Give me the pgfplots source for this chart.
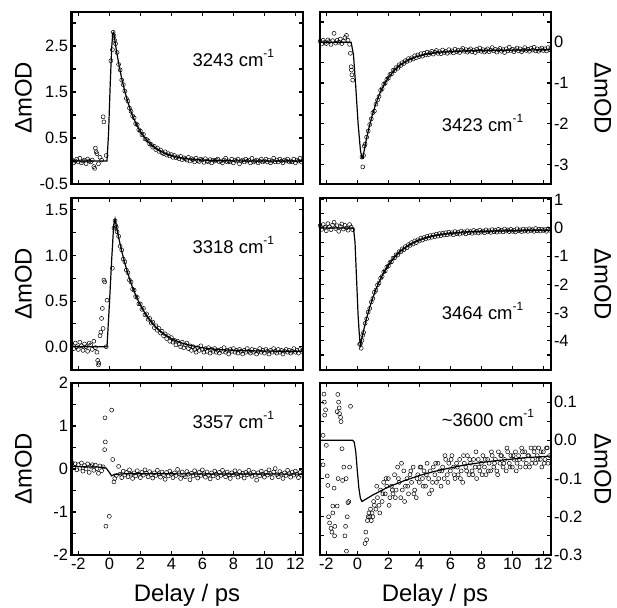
\documentclass[border=0pt]{standalone}
\usepackage{fontspec}
\setmainfont{Liberation Sans}
\usepackage{pgfplots}
\usepackage{pgfplotstable}
\pgfplotsset{compat=1.18}

% measured traces (delay in ps, signal in mOD)
\pgfplotstableread{
t y
-2.4 0.02
-2.3 -0.04
-2.2 0.00
-2.1 0.04
-2.0 -0.02
-1.9 0.06
-1.8 -0.04
-1.7 0.00
-1.6 0.02
-1.5 -0.06
-1.4 0.04
-1.3 0.00
-1.2 -0.02
-1.1 0.02
-1.0 -0.12
-0.95 -0.16
-0.9 0.28
-0.85 0.20
-0.8 0.16
-0.7 -0.06
-0.6 0.08
-0.5 0.02
-0.4 0.96
-0.35 0.85
-0.2 0.12
0.1 2.18
0.2 2.42
0.25 2.80
0.3 2.72
0.35 2.62
0.4 2.55
0.5 2.36
0.6 2.10
0.7 1.98
0.8 1.76
0.9 1.66
1.0 1.52
1.1 1.36
1.2 1.30
1.3 1.15
1.4 1.08
1.5 0.98
1.6 0.94
1.7 0.81
1.8 0.79
1.9 0.68
2.0 0.65
2.1 0.57
2.2 0.58
2.3 0.48
2.4 0.47
2.5 0.44
2.6 0.37
2.7 0.36
2.8 0.30
2.9 0.32
3.0 0.25
3.1 0.28
3.2 0.21
3.3 0.24
3.4 0.18
3.5 0.16
3.6 0.20
3.7 0.13
3.8 0.16
3.9 0.11
4.0 0.14
4.1 0.08
4.2 0.12
4.3 0.07
4.4 0.09
4.5 0.05
4.6 0.10
4.7 0.03
4.8 0.07
4.9 0.05
5.0 0.02
5.1 0.08
5.2 0.00
5.3 0.05
5.4 0.03
5.5 -0.02
5.6 0.06
5.7 0.01
5.8 -0.01
5.9 0.04
6.0 0.02
6.1 -0.03
6.2 0.05
6.3 0.00
6.4 -0.02
6.5 0.03
6.6 -0.04
6.7 0.02
6.8 0.00
6.9 0.02
7.0 0.04
7.1 -0.02
7.2 0.00
7.3 -0.04
7.4 0.02
7.5 0.06
7.6 -0.02
7.7 0.00
7.8 -0.02
7.9 0.04
8.0 -0.04
8.1 0.02
8.2 0.00
8.3 0.04
8.4 -0.06
8.5 0.00
8.6 0.02
8.7 -0.02
8.8 0.04
8.9 0.00
9.0 0.02
9.1 -0.04
9.2 0.06
9.3 -0.02
9.4 0.00
9.5 0.02
9.6 -0.04
9.7 0.00
9.8 0.04
9.9 -0.02
10.0 0.00
10.1 0.04
10.2 -0.02
10.3 0.02
10.4 -0.04
10.5 0.00
10.6 0.06
10.7 -0.02
10.8 0.02
10.9 -0.02
11.0 0.04
11.1 0.00
11.2 -0.04
11.3 0.02
11.4 0.00
11.5 0.04
11.6 -0.02
11.7 0.00
11.8 -0.02
11.9 0.04
12.0 -0.04
12.1 0.02
12.2 0.00
12.3 0.06
12.4 -0.02
}\dataA

\pgfplotstableread{
t y
-2.4 0.03
-2.3 -0.04
-2.2 0.05
-2.1 0.00
-2.0 -0.03
-1.9 0.06
-1.8 0.02
-1.7 -0.05
-1.6 0.04
-1.5 0.22
-1.4 -0.02
-1.3 0.05
-1.2 0.00
-1.1 0.08
-1.0 -0.03
-0.9 0.03
-0.8 0.12
-0.7 0.17
-0.6 0.05
-0.5 -0.05
-0.45 -0.27
-0.4 -0.60
-0.38 -0.68
-0.35 -0.80
-0.3 -0.93
0.3 -2.82
0.35 -3.06
0.4 -2.78
0.45 -2.55
0.5 -2.50
0.6 -2.33
0.7 -2.18
0.8 -2.02
0.9 -1.88
1.0 -1.73
1.1 -1.69
1.2 -1.52
1.3 -1.42
1.4 -1.33
1.5 -1.18
1.6 -1.14
1.7 -1.03
1.8 -1.00
1.9 -0.91
2.0 -0.88
2.1 -0.79
2.2 -0.78
2.3 -0.69
2.4 -0.70
2.5 -0.62
2.6 -0.64
2.7 -0.55
2.8 -0.57
2.9 -0.50
3.0 -0.52
3.1 -0.45
3.2 -0.47
3.3 -0.40
3.4 -0.44
3.5 -0.38
3.6 -0.41
3.7 -0.33
3.8 -0.38
3.9 -0.31
4.0 -0.35
4.1 -0.28
4.2 -0.34
4.3 -0.27
4.4 -0.31
4.5 -0.24
4.6 -0.30
4.7 -0.26
4.8 -0.22
4.9 -0.29
5.0 -0.24
5.1 -0.20
5.2 -0.27
5.3 -0.23
5.4 -0.28
5.5 -0.19
5.6 -0.25
5.7 -0.22
5.8 -0.27
5.9 -0.18
6.0 -0.24
6.1 -0.21
6.2 -0.26
6.3 -0.17
6.4 -0.23
6.5 -0.20
6.6 -0.25
6.7 -0.19
6.8 -0.15
6.9 -0.22
7.0 -0.18
7.1 -0.24
7.2 -0.20
7.3 -0.16
7.4 -0.23
7.5 -0.19
7.6 -0.25
7.7 -0.17
7.8 -0.21
7.9 -0.14
8.0 -0.22
8.1 -0.18
8.2 -0.24
8.3 -0.20
8.4 -0.16
8.5 -0.23
8.6 -0.19
8.7 -0.13
8.8 -0.21
8.9 -0.17
9.0 -0.24
9.1 -0.19
9.2 -0.15
9.3 -0.22
9.4 -0.18
9.5 -0.25
9.6 -0.16
9.7 -0.21
9.8 -0.12
9.9 -0.20
10.0 -0.17
10.1 -0.23
10.2 -0.18
10.3 -0.14
10.4 -0.21
10.5 -0.16
10.6 -0.23
10.7 -0.19
10.8 -0.13
10.9 -0.20
11.0 -0.17
11.1 -0.22
11.2 -0.15
11.3 -0.19
11.4 -0.12
11.5 -0.21
11.6 -0.16
11.7 -0.22
11.8 -0.18
11.9 -0.14
12.0 -0.20
12.1 -0.16
12.2 -0.21
12.3 -0.13
12.4 -0.18
}\dataB

\pgfplotstableread{
t y
-2.4 0.02
-2.3 -0.02
-2.2 0.04
-2.1 0.00
-2.0 -0.03
-1.9 0.05
-1.8 0.01
-1.7 -0.04
-1.6 0.03
-1.5 0.00
-1.4 -0.05
-1.3 0.04
-1.2 0.02
-1.1 -0.03
-1.0 0.06
-0.9 -0.01
-0.8 -0.06
-0.75 -0.15
-0.7 -0.20
-0.68 -0.18
-0.6 0.12
-0.55 0.16
-0.5 0.31
-0.45 0.42
-0.4 0.20
-0.35 0.73
-0.3 0.71
-0.2 0.00
-0.15 0.51
0.2 0.86
0.3 1.30
0.37 1.38
0.4 1.33
0.45 1.31
0.5 1.26
0.6 1.21
0.7 1.10
0.8 1.06
0.9 0.96
1.0 0.93
1.1 0.84
1.2 0.81
1.3 0.73
1.4 0.71
1.5 0.63
1.6 0.62
1.7 0.55
1.8 0.54
1.9 0.47
2.0 0.47
2.1 0.41
2.2 0.42
2.3 0.35
2.4 0.36
2.5 0.30
2.6 0.31
2.7 0.26
2.8 0.27
2.9 0.21
3.0 0.23
3.1 0.18
3.2 0.20
3.3 0.15
3.4 0.17
3.5 0.12
3.6 0.14
3.7 0.09
3.8 0.12
3.9 0.06
4.0 0.10
4.1 0.05
4.2 0.07
4.3 0.02
4.4 0.06
4.5 0.03
4.6 0.00
4.7 0.05
4.8 -0.01
4.9 0.02
5.0 0.04
5.1 -0.02
5.2 0.01
5.3 -0.04
5.4 0.00
5.5 -0.03
5.6 -0.06
5.7 -0.01
5.8 -0.04
5.9 0.01
6.0 -0.03
6.1 -0.06
6.2 -0.02
6.3 -0.05
6.4 -0.01
6.5 -0.07
6.6 -0.03
6.7 -0.05
6.8 -0.02
6.9 -0.06
7.0 -0.04
7.1 -0.07
7.2 -0.03
7.3 -0.05
7.4 -0.01
7.5 -0.06
7.6 -0.04
7.7 -0.08
7.8 -0.03
7.9 -0.05
8.0 -0.02
8.1 -0.06
8.2 -0.04
8.3 -0.07
8.4 -0.03
8.5 -0.05
8.6 -0.08
8.7 -0.04
8.8 -0.06
8.9 -0.02
9.0 -0.05
9.1 -0.07
9.2 -0.03
9.3 -0.06
9.4 -0.04
9.5 -0.08
9.6 -0.05
9.7 -0.02
9.8 -0.06
9.9 -0.04
10.0 -0.07
10.1 -0.03
10.2 -0.05
10.3 -0.08
10.4 -0.04
10.5 -0.06
10.6 -0.02
10.7 -0.05
10.8 -0.07
10.9 -0.03
11.0 -0.06
11.1 -0.04
11.2 -0.08
11.3 -0.05
11.4 -0.03
11.5 -0.06
11.6 -0.04
11.7 -0.07
11.8 -0.05
11.9 -0.02
12.0 -0.06
12.1 -0.04
12.2 -0.07
12.3 -0.03
12.4 -0.05
}\dataC

\pgfplotstableread{
t y
-2.4 0.08
-2.3 -0.05
-2.2 0.12
-2.1 0.02
-2.0 -0.10
-1.9 0.15
-1.8 0.04
-1.7 -0.06
-1.6 0.10
-1.5 0.20
-1.4 -0.02
-1.3 0.08
-1.2 -0.12
-1.1 0.05
-1.0 0.14
-0.9 -0.04
-0.8 0.09
-0.7 0.00
-0.6 -0.08
-0.5 0.12
-0.4 0.03
-0.3 -0.06
0.15 -4.12
0.2 -4.10
0.25 -4.26
0.3 -3.98
0.35 -3.80
0.4 -3.70
0.5 -3.38
0.6 -3.22
0.7 -2.98
0.8 -2.85
0.9 -2.62
1.0 -2.50
1.1 -2.28
1.2 -2.20
1.3 -2.02
1.4 -1.95
1.5 -1.78
1.6 -1.72
1.7 -1.56
1.8 -1.52
1.9 -1.38
2.0 -1.35
2.1 -1.22
2.2 -1.20
2.3 -1.07
2.4 -1.06
2.5 -0.95
2.6 -0.96
2.7 -0.84
2.8 -0.85
2.9 -0.74
3.0 -0.77
3.1 -0.66
3.2 -0.70
3.3 -0.59
3.4 -0.62
3.5 -0.52
3.6 -0.57
3.7 -0.46
3.8 -0.52
3.9 -0.42
4.0 -0.46
4.1 -0.36
4.2 -0.43
4.3 -0.34
4.4 -0.39
4.5 -0.30
4.6 -0.36
4.7 -0.27
4.8 -0.33
4.9 -0.25
5.0 -0.31
5.1 -0.22
5.2 -0.29
5.3 -0.20
5.4 -0.27
5.5 -0.19
5.6 -0.25
5.7 -0.17
5.8 -0.24
5.9 -0.15
6.0 -0.22
6.1 -0.17
6.2 -0.24
6.3 -0.13
6.4 -0.20
6.5 -0.16
6.6 -0.22
6.7 -0.11
6.8 -0.18
6.9 -0.14
7.0 -0.21
7.1 -0.10
7.2 -0.17
7.3 -0.13
7.4 -0.19
7.5 -0.09
7.6 -0.16
7.7 -0.12
7.8 -0.18
7.9 -0.08
8.0 -0.15
8.1 -0.11
8.2 -0.17
8.3 -0.07
8.4 -0.14
8.5 -0.10
8.6 -0.16
8.7 -0.06
8.8 -0.13
8.9 -0.09
9.0 -0.15
9.1 -0.05
9.2 -0.12
9.3 -0.08
9.4 -0.14
9.5 -0.04
9.6 -0.11
9.7 -0.07
9.8 -0.13
9.9 -0.05
10.0 -0.12
10.1 -0.08
10.2 -0.14
10.3 -0.03
10.4 -0.10
10.5 -0.07
10.6 -0.13
10.7 -0.04
10.8 -0.11
10.9 -0.06
11.0 -0.12
11.1 -0.03
11.2 -0.09
11.3 -0.06
11.4 -0.12
11.5 -0.02
11.6 -0.10
11.7 -0.05
11.8 -0.11
11.9 -0.04
12.0 -0.09
12.1 -0.06
12.2 -0.12
12.3 -0.03
12.4 -0.08
}\dataD

\pgfplotstableread{
t y
-2.4 0.15
-2.3 0.05
-2.2 0.12
-2.1 -0.02
-2.0 0.10
-1.9 0.02
-1.8 0.14
-1.7 -0.05
-1.6 0.08
-1.5 0.00
-1.4 0.12
-1.3 -0.08
-1.2 0.06
-1.1 0.10
-1.0 -0.03
-0.9 0.09
-0.8 0.01
-0.7 -0.10
-0.6 0.07
-0.5 -0.04
-0.4 0.05
-0.3 0.45
-0.28 1.19
-0.26 0.63
-0.22 -1.33
0.0 -1.10
0.15 1.37
0.22 0.22
0.3 -0.30
0.35 -0.22
0.45 -0.15
0.6 0.06
0.7 -0.12
0.8 -0.20
0.9 -0.05
1.0 -0.14
1.1 -0.08
1.2 -0.18
1.3 -0.02
1.4 -0.12
1.5 -0.22
1.6 -0.09
1.7 -0.16
1.8 -0.04
1.9 -0.12
2.0 -0.20
2.1 -0.08
2.2 -0.14
2.3 -0.02
2.4 -0.10
2.5 -0.18
2.6 -0.06
2.7 -0.13
2.8 -0.21
2.9 -0.09
3.0 -0.15
3.1 -0.03
3.2 -0.11
3.3 -0.19
3.4 -0.07
3.5 -0.13
3.6 -0.24
3.7 -0.08
3.8 -0.16
3.9 -0.05
4.0 -0.12
4.1 -0.20
4.2 -0.09
4.3 -0.15
4.4 -0.01
4.5 -0.11
4.6 -0.22
4.7 -0.07
4.8 -0.14
4.9 -0.18
5.0 -0.06
5.1 -0.12
5.2 -0.25
5.3 -0.10
5.4 -0.16
5.5 -0.04
5.6 -0.13
5.7 -0.21
5.8 -0.08
5.9 -0.15
6.0 -0.02
6.1 -0.11
6.2 -0.19
6.3 -0.07
6.4 -0.14
6.5 -0.23
6.6 -0.09
6.7 -0.16
6.8 -0.05
6.9 -0.12
7.0 -0.20
7.1 -0.08
7.2 -0.15
7.3 -0.03
7.4 -0.11
7.5 -0.18
7.6 -0.07
7.7 -0.13
7.8 -0.22
7.9 -0.09
8.0 -0.14
8.1 -0.04
8.2 -0.12
8.3 -0.19
8.4 -0.06
8.5 -0.15
8.6 -0.10
8.7 -0.21
8.8 -0.08
8.9 -0.13
9.0 -0.03
9.1 -0.11
9.2 -0.17
9.3 -0.07
9.4 -0.14
9.5 -0.26
9.6 -0.09
9.7 -0.16
9.8 -0.05
9.9 -0.12
10.0 -0.19
10.1 -0.08
10.2 -0.14
10.3 -0.02
10.4 -0.11
10.5 -0.20
10.6 -0.07
10.7 0.01
10.8 -0.13
10.9 -0.18
11.0 -0.06
11.1 -0.12
11.2 -0.22
11.3 -0.09
11.4 -0.15
11.5 -0.03
11.6 -0.11
11.7 -0.19
11.8 -0.07
11.9 -0.14
12.0 -0.05
12.1 -0.12
12.2 -0.20
12.3 -0.08
12.4 -0.14
}\dataE

\pgfplotstableread{
t y
-2.21 0.013
-2.21 -0.064
-2.15 0.121
-2.13 0.100
-2.11 0.066
-2.05 0.080
-2.00 -0.013
-1.94 -0.093
-1.90 -0.118
-1.85 -0.200
-1.79 -0.216
-1.70 -0.230
-1.64 -0.240
-1.58 -0.172
-1.58 -0.190
-1.50 -0.125
-1.47 -0.250
-1.45 -0.225
-1.30 0.075
-1.30 -0.172
-1.26 0.120
-1.24 -0.100
-1.21 0.100
-1.17 0.085
-1.15 0.070
-1.08 0.060
-1.05 0.049
-0.99 -0.022
-0.95 -0.105
-0.87 -0.070
-0.80 -0.250
-0.76 -0.225
-0.72 -0.100
-0.70 -0.290
-0.65 -0.200
-0.61 -0.163
-0.55 -0.160
-0.50 -0.070
-0.44 0.089
0.50 -0.27
0.55 -0.24
0.60 -0.26
0.65 -0.21
0.70 -0.20
0.75 -0.19
0.80 -0.20
0.85 -0.18
0.90 -0.21
0.95 -0.19
1.0 -0.20
1.05 -0.16
1.1 -0.17
1.2 -0.18
1.25 -0.12
1.3 -0.15
1.4 -0.17
1.45 -0.19
1.5 -0.13
1.6 -0.16
1.65 -0.14
1.7 -0.11
1.8 -0.14
1.85 -0.10
1.9 -0.12
2.0 -0.10
2.05 -0.17
2.1 -0.15
2.2 -0.12
2.25 -0.13
2.3 -0.14
2.4 -0.09
2.45 -0.15
2.5 -0.13
2.6 -0.07
2.65 -0.10
2.7 -0.11
2.8 -0.15
2.85 -0.06
2.9 -0.13
3.0 -0.08
3.05 -0.16
3.1 -0.12
3.2 -0.10
3.25 -0.12
3.3 -0.14
3.4 -0.09
3.45 -0.08
3.5 -0.11
3.6 -0.07
3.65 -0.14
3.7 -0.13
3.8 -0.15
3.85 -0.10
3.9 -0.09
4.0 -0.11
4.05 -0.07
4.1 -0.07
4.2 -0.10
4.25 -0.12
4.3 -0.08
4.4 -0.12
4.45 -0.09
4.5 -0.06
4.6 -0.10
4.65 -0.14
4.7 -0.08
4.8 -0.13
4.85 -0.11
4.9 -0.07
5.0 -0.09
5.05 -0.06
5.1 -0.11
5.2 -0.06
5.25 -0.10
5.3 -0.08
5.4 -0.12
5.45 -0.08
5.5 -0.07
5.6 -0.10
5.65 -0.04
5.7 -0.05
5.8 -0.09
5.85 -0.11
5.9 -0.06
6.0 -0.08
6.05 -0.05
6.1 -0.04
6.2 -0.07
6.25 -0.09
6.3 -0.10
6.4 -0.06
6.45 -0.07
6.5 -0.09
6.6 -0.05
6.65 -0.10
6.7 -0.08
6.8 -0.11
6.85 -0.04
6.9 -0.06
7.0 -0.07
7.05 -0.08
7.1 -0.04
7.2 -0.09
7.25 -0.05
7.3 -0.06
7.4 -0.08
7.45 -0.09
7.5 -0.05
7.6 -0.07
7.65 -0.03
7.7 -0.10
7.8 -0.05
7.85 -0.07
7.9 -0.08
8.0 -0.06
8.05 -0.09
8.1 -0.04
8.2 -0.07
8.25 -0.05
8.3 -0.09
8.4 -0.05
8.45 -0.08
8.5 -0.06
8.6 -0.08
8.65 -0.03
8.7 -0.04
8.8 -0.07
8.85 -0.06
8.9 -0.05
9.0 -0.08
9.05 -0.09
9.1 -0.03
9.2 -0.06
9.25 -0.04
9.3 -0.04
9.4 -0.07
9.45 -0.06
9.5 -0.05
9.6 -0.08
9.65 -0.02
9.7 -0.03
9.8 -0.06
9.85 -0.07
9.9 -0.04
10.0 -0.07
10.05 -0.04
10.1 -0.05
10.2 -0.03
10.25 -0.08
10.3 -0.06
10.4 -0.04
10.45 -0.05
10.5 -0.07
10.6 -0.02
10.65 -0.03
10.7 -0.05
10.8 -0.03
10.85 -0.07
10.9 -0.06
11.0 -0.04
11.05 -0.04
11.1 -0.07
11.2 -0.02
11.25 -0.06
11.3 -0.05
11.4 -0.03
11.45 -0.02
11.5 -0.06
11.6 -0.04
11.65 -0.05
11.7 -0.02
11.8 -0.05
11.85 -0.03
11.9 -0.07
12.0 -0.03
12.05 -0.06
12.1 -0.05
12.2 -0.02
12.25 -0.02
12.3 -0.06
12.4 -0.04
}\dataF

\pgfplotsset{
  panel/.style={
    scale only axis, width=231bp, height=172bp,
    anchor=south west,
    xmin=-2.44, xmax=12.46,
    xtick={-2,0,2,4,6,8,10,12},
    xticklabels={},
    tick align=inside, tick pos=both,
    axis line style={line width=2bp},
    tick style={black, line width=1.1bp},
    major tick length=4bp, minor tick length=4bp,
    tick label style={font=\fontsize{16.5}{17}\selectfont},
  },
  lefty/.style={
    ylabel={ΔmOD},
    every axis y label/.style={at={(axis description cs:-0.208,0.5)},
      rotate=90, anchor=center, font=\fontsize{24}{25}\selectfont},
  },
  righty/.style={
    yticklabel pos=right,
    ylabel={ΔmOD},
    every axis y label/.style={at={(axis description cs:1.227,0.5)},
      rotate=-90, anchor=center, font=\fontsize{24}{25}\selectfont},
  },
  bottomx/.style={
    xticklabels={-2,0,2,4,6,8,10,12},
    xlabel={Delay / ps},
    every axis x label/.style={at={(axis description cs:0.5,-0.27)},
      anchor=base, font=\fontsize{24}{25}\selectfont},
  },
  dots/.style={only marks, mark=o, mark size=2bp,
    mark options={line width=0.5bp, black}},
  fitline/.style={black, line width=1.2bp, no marks},
}
\newcommand{\wn}[1]{#1 cm\raisebox{0.5em}{\fontsize{12}{12}\selectfont -1}}
\newcommand{\lab}{\fontsize{18.5}{19}\selectfont}

\begin{document}
\begin{tikzpicture}
\useasboundingbox (0bp,0bp) rectangle (617bp,608bp);

% row 1, left: 3243
\begin{axis}[panel, lefty, at={(71.5bp,424bp)},
  ymin=-0.5, ymax=3.24,
  ytick={-0.5,0.5,1.5,2.5}, yticklabels={-0.5,0.5,1.5,2.5},
  minor ytick={0,1,2,3}]
  \addplot[dots] table[x=t,y=y] {\dataA};
  \addplot[fitline] coordinates {(-2.44,0) (-0.15,0) (-0.05,0.6) (0.05,1.6)
    (0.15,2.45) (0.22,2.78) (0.28,2.80) (0.4,2.525) (0.5,2.32) (0.6,2.13)
    (0.8,1.79) (1.0,1.51) (1.2,1.275) (1.4,1.07) (1.6,0.906) (1.8,0.763)
    (2.0,0.643) (2.3,0.50) (2.6,0.385) (3.0,0.274) (3.5,0.178) (4.0,0.116)
    (4.5,0.076) (5,0.049) (6,0.02) (7,0.009) (8,0.003) (10,0) (12.46,0)};
  \node[anchor=base west, font=\lab] at (axis cs:5.15,2.05) {\wn{3243}};
\end{axis}

% row 1, right: 3423
\begin{axis}[panel, righty, at={(319.5bp,424bp)},
  ymin=-3.48, ymax=0.745,
  ytick={-3,-2,-1,0}, yticklabels={-3,-2,-1,0},
  minor ytick={-2.5,-1.5,-0.5,0.5}]
  \addplot[dots] table[x=t,y=y] {\dataB};
  \addplot[fitline] coordinates {(-2.44,0) (-0.4,0) (-0.25,-0.3) (-0.1,-1.1)
    (0.05,-2.0) (0.2,-2.65) (0.3,-2.85) (0.35,-2.85) (0.55,-2.44) (0.75,-2.10)
    (0.95,-1.81) (1.15,-1.56) (1.35,-1.35) (1.55,-1.17) (1.75,-1.03)
    (1.95,-0.90) (2.35,-0.70) (2.75,-0.56) (3.35,-0.42) (3.75,-0.36)
    (4.35,-0.30) (5.35,-0.24) (6.35,-0.22) (8.35,-0.20) (12.46,-0.18)};
  \node[anchor=base west, font=\lab] at (axis cs:5.23,-2.2) {\wn{3423}};
\end{axis}

% row 2, left: 3318
\begin{axis}[panel, lefty, at={(71.5bp,238bp)},
  ymin=-0.255, ymax=1.63,
  ytick={0,0.5,1,1.5}, yticklabels={0.0,0.5,1.0,1.5},
  minor ytick={-0.25,0.25,0.75,1.25}]
  \addplot[dots] table[x=t,y=y] {\dataC};
  \addplot[fitline] coordinates {(-2.44,0) (-0.15,0) (0,0.45) (0.15,0.95)
    (0.28,1.33) (0.37,1.40) (0.5,1.28) (0.7,1.12) (0.9,0.98) (1.1,0.855)
    (1.3,0.746) (1.5,0.649) (1.7,0.565) (1.9,0.49) (2.1,0.425) (2.3,0.368)
    (2.5,0.317) (2.7,0.273) (2.9,0.234) (3.1,0.199) (3.3,0.169) (3.5,0.143)
    (4,0.09) (4.5,0.051) (5,0.023) (6,-0.012) (7,-0.03) (8,-0.039)
    (10,-0.048) (12.46,-0.05)};
  \node[anchor=base west, font=\lab] at (axis cs:5.15,1.02) {\wn{3318}};
\end{axis}

% row 2, right: 3464
\begin{axis}[panel, righty, at={(319.5bp,238bp)},
  ymin=-5.03, ymax=1.06,
  ytick={-4,-3,-2,-1,0,1}, yticklabels={-4,-3,-2,-1,0,1},
  minor ytick={-4.5,-3.5,-2.5,-1.5,-0.5,0.5}]
  \addplot[dots] table[x=t,y=y] {\dataD};
  \addplot[fitline] coordinates {(-2.44,0) (-0.25,0) (-0.15,-0.5) (-0.05,-1.8)
    (0.05,-3.1) (0.15,-3.95) (0.2,-4.14) (0.4,-3.64) (0.6,-3.19) (0.8,-2.81)
    (1.0,-2.47) (1.2,-2.17) (1.4,-1.92) (1.6,-1.69) (1.8,-1.49) (2.0,-1.32)
    (2.4,-1.03) (2.8,-0.81) (3.2,-0.65) (3.6,-0.52) (4.0,-0.42) (4.5,-0.33)
    (5.0,-0.27) (6,-0.19) (7,-0.14) (8,-0.12) (10,-0.10) (12.46,-0.08)};
  \node[anchor=base west, font=\lab] at (axis cs:5.23,-3.25) {\wn{3464}};
\end{axis}

% row 3, left: 3357
\begin{axis}[panel, lefty, bottomx, at={(71.5bp,53bp)},
  ymin=-2, ymax=2,
  ytick={-2,-1,0,1,2}, yticklabels={-2,-1,0,1,2},
  minor ytick={-1.5,-0.5,0.5,1.5}]
  \addplot[dots] table[x=t,y=y] {\dataE};
  \addplot[fitline] coordinates {(-2.44,0.06) (-0.4,0.04) (-0.2,0.02)
    (0,-0.08) (0.15,-0.16) (0.3,-0.13) (1,-0.11) (12.46,-0.12)};
  \node[anchor=base west, font=\lab] at (axis cs:5.15,0.94) {\wn{3357}};
\end{axis}

% row 3, right: ~3600
\begin{axis}[panel, righty, bottomx, at={(319.5bp,53bp)},
  ymin=-0.3, ymax=0.15,
  ytick={-0.3,-0.2,-0.1,0,0.1}, yticklabels={-0.3,-0.2,-0.1,0.0,0.1},
  minor ytick={-0.25,-0.15,-0.05,0.05}]
  \addplot[dots] table[x=t,y=y] {\dataF};
  \addplot[fitline] coordinates {(-2.44,0) (-0.3,0) (-0.2,-0.005) (-0.1,-0.03)
    (0,-0.08) (0.1,-0.125) (0.2,-0.152) (0.3,-0.16) (1,-0.143) (2,-0.122)
    (3,-0.106) (4,-0.092) (5,-0.081) (6,-0.072) (7,-0.064) (8,-0.058)
    (9,-0.053) (10,-0.049) (11,-0.045) (12,-0.0425) (12.46,-0.041)};
  \node[anchor=base west, font=\lab] at (axis cs:5.23,0.035) {\wn{\textasciitilde3600}};
\end{axis}
\end{tikzpicture}
\end{document}
